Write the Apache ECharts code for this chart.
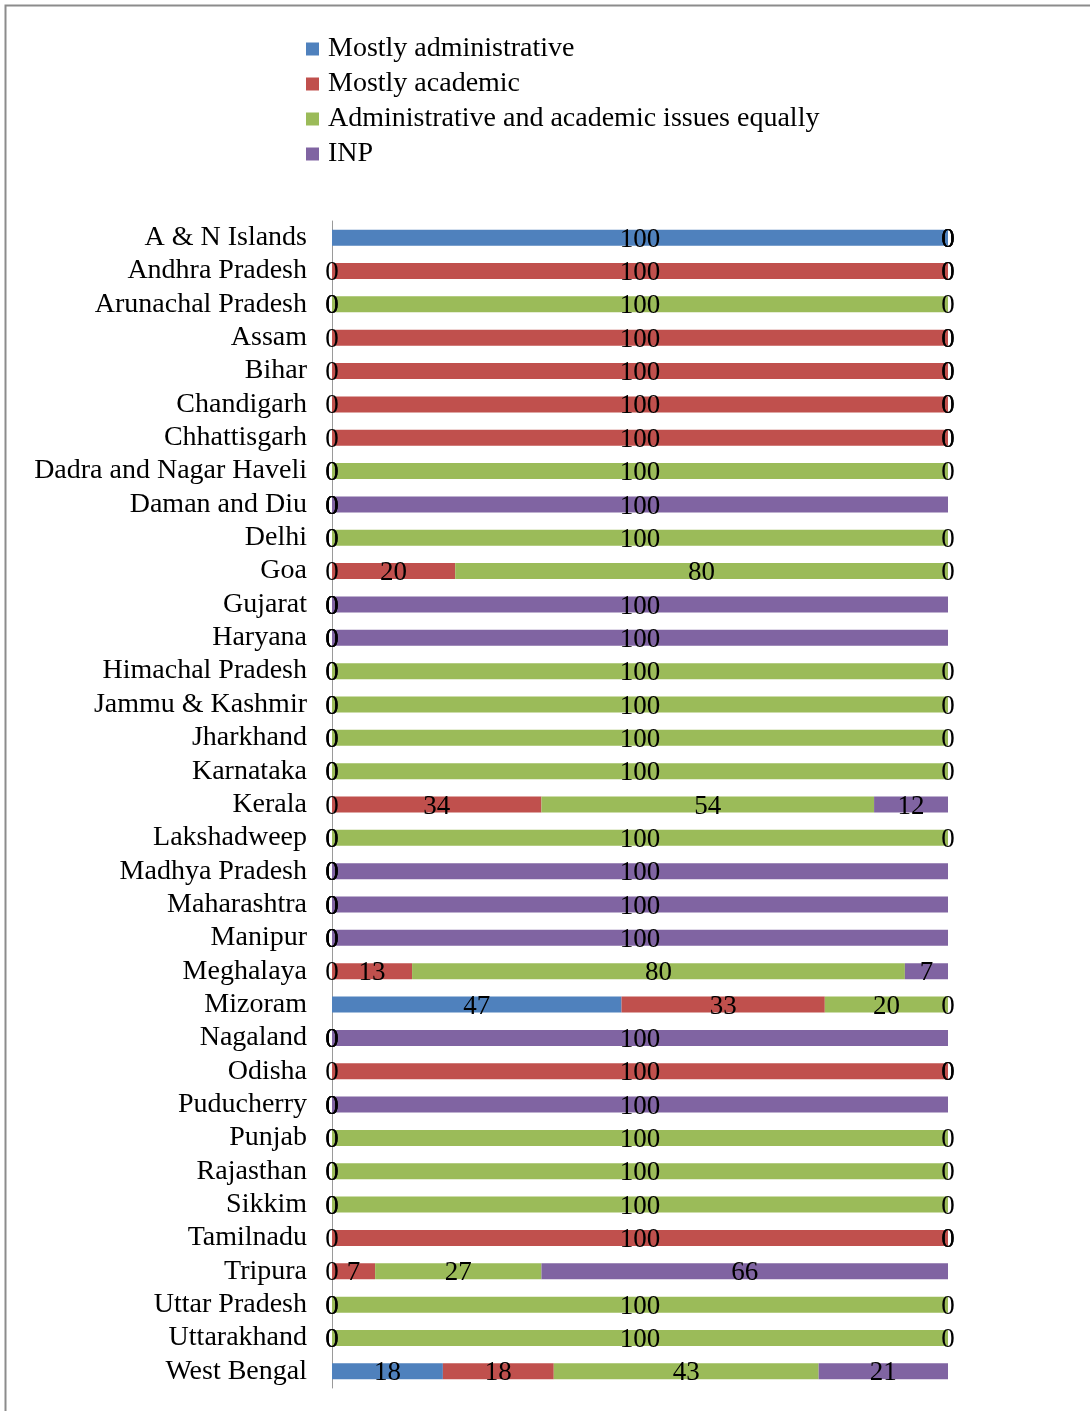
<!DOCTYPE html>
<html>
<head>
<meta charset="utf-8">
<script src="https://cdn.jsdelivr.net/npm/echarts@6/dist/echarts.min.js"></script>
<style>
html,body{margin:0;padding:0;background:#fff;}
#c{width:1090px;height:1411px;}
</style>
</head>
<body>
<div id="c"></div>
<script>
const categories = ["A & N Islands","Andhra Pradesh","Arunachal Pradesh","Assam","Bihar","Chandigarh","Chhattisgarh","Dadra and Nagar Haveli","Daman and Diu","Delhi","Goa","Gujarat","Haryana","Himachal Pradesh","Jammu & Kashmir","Jharkhand","Karnataka","Kerala","Lakshadweep","Madhya Pradesh","Maharashtra","Manipur","Meghalaya","Mizoram","Nagaland","Odisha","Puducherry","Punjab","Rajasthan","Sikkim","Tamilnadu","Tripura","Uttar Pradesh","Uttarakhand","West Bengal"];
const mostlyAdministrative = [100,0,0,0,0,0,0,0,0,0,0,0,0,0,0,0,0,0,0,0,0,0,0,47,0,0,0,0,0,0,0,0,0,0,18];
const mostlyAcademic =       [0,100,0,100,100,100,100,0,0,0,20,0,0,0,0,0,0,34,0,0,0,0,13,33,0,100,0,0,0,0,100,7,0,0,18];
const bothEqually =          [0,0,100,0,0,0,0,100,0,100,80,0,0,100,100,100,100,54,100,0,0,0,80,20,0,0,0,100,100,100,0,27,100,100,43];
const inp =                  [0,0,0,0,0,0,0,0,100,0,0,100,100,0,0,0,0,12,0,100,100,100,7,0,100,0,100,0,0,0,0,66,0,0,21];
const seriesNames = ["Mostly administrative","Mostly academic","Administrative and academic issues equally","INP"];
const colors = ["#4F81BD","#C0504D","#9BBB59","#8064A2"];
const dataSets = [mostlyAdministrative, mostlyAcademic, bothEqually, inp];

const FONT = '"Liberation Serif","Times New Roman",serif';
const chart = echarts.init(document.getElementById('c'), null, {renderer:'canvas'});
chart.setOption({
  animation:false,
  backgroundColor:'#fff',
  color:colors,
  graphic:[{type:'rect',left:3,top:3,shape:{width:1200,height:1500},style:{fill:'none',stroke:'#8c8c8c',lineWidth:2},z:-1}],
  legend:{
    orient:'vertical', left:301, top:30,
    icon:'rect', itemWidth:13, itemHeight:13, itemGap:7,
    textStyle:{fontFamily:FONT, fontSize:28, color:'#000', lineHeight:28, padding:[0,0,0,4]},
    data:seriesNames
  },
  grid:{left:332, right:142, top:221, bottom:23, containLabel:false},
  xAxis:{type:'value', min:0, max:100, show:false},
  yAxis:{
    type:'category', data:categories, inverse:true,
    axisLine:{show:true, lineStyle:{color:'#9a9a9a', width:1}},
    axisTick:{show:false},
    axisLabel:{interval:0, fontFamily:FONT, fontSize:28, color:'#000', margin:25, padding:[6,0,0,0]}
  },
  series: dataSets.map((d,i)=>({
    name:seriesNames[i], type:'bar', stack:'total', barWidth:16,
    data:d,
    label:{show:true, position:'inside', fontFamily:FONT, fontSize:27, color:'#000', offset:[0,2]},
    itemStyle:{color:colors[i]}
  }))
});
</script>
</body>
</html>
